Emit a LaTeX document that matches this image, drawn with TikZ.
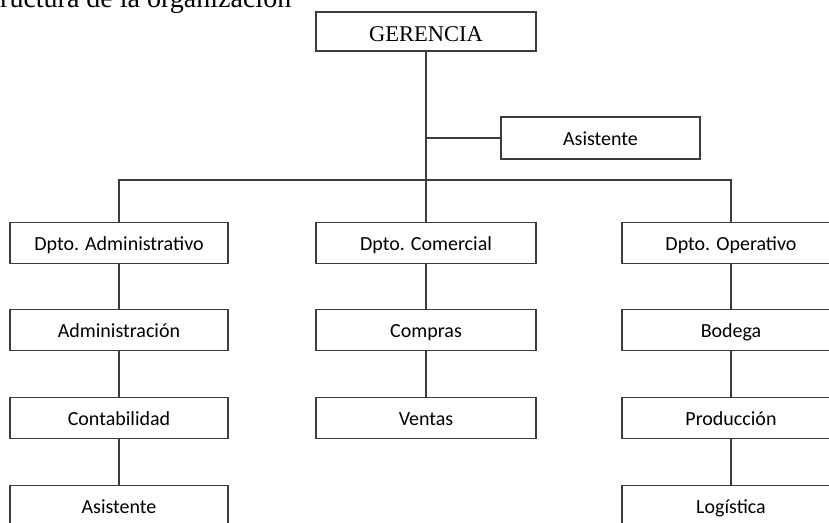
\documentclass[tikz,border=0pt]{standalone}
\usepackage{fontspec}
\setmainfont{Carlito}
\newfontfamily\serifa{Liberation Serif}
\usepackage{tikz}
\usetikzlibrary{calc}

\definecolor{linea}{RGB}{60,60,60}

\tikzset{
    caja/.style={draw=linea, line width=1.1pt, minimum width=218pt, minimum height=41pt, inner sep=0pt, text height=19pt, text depth=4pt, font=\fontsize{20}{22}\selectfont},
    conector/.style={draw=linea, line width=1.1pt}
}

\begin{document}
\begin{tikzpicture}[x=1pt, y=1pt]
        \useasboundingbox (0,0) rectangle (829,-522);
        % titulo (cortado arriba)
        \node[anchor=base west, inner sep=0pt, font=\serifa\fontsize{28}{30}\selectfont] (titulo) at (0,-7.5) {ructura de la organización};

        \node[caja, minimum width=220pt, minimum height=39pt, text height=22pt, text depth=2pt, font=\serifa\fontsize{22.5}{24}\selectfont] (gerencia) at (426,-31.5) {GERENCIA};
        \node[caja, minimum width=199pt, minimum height=42pt] (asistente) at (600.5,-138) {Asistente};
        \coordinate (bus) at (0,-180);

        % departamentos
        \node[caja] (dadm) at (119,-243) {Dpto. Administrativo};
        \node[caja, minimum width=220pt] (dcom) at (426,-243) {Dpto. Comercial};
        \node[caja] (dope) at (731,-243) {Dpto. Operativo};

        % columna izquierda
        \node[caja] (adm) at (119,-330) {Administración};
        \node[caja] (cont) at (119,-418) {Contabilidad};
        \node[caja] (asis) at (119,-506) {Asistente};

        % columna central
        \node[caja, minimum width=220pt] (compras) at (426,-330) {Compras};
        \node[caja, minimum width=220pt] (ventas) at (426,-418) {Ventas};

        % columna derecha
        \node[caja] (bodega) at (731,-330) {Bodega};
        \node[caja] (prod) at (731,-418) {Producción};
        \node[caja] (log) at (731,-506) {Logística};

        \draw[conector] (gerencia) -- (dcom);
        \draw[conector] (asistente.west) -- (asistente.west -| gerencia.south);
        \draw[conector] (dadm.north) -- (dadm.north |- bus) -- (dope.north |- bus) -- (dope.north);

        \draw[conector] (dadm) -- (adm);
        \draw[conector] (adm) -- (cont);
        \draw[conector] (cont) -- (asis);
        \draw[conector] (dcom) -- (compras);
        \draw[conector] (compras) -- (ventas);
        \draw[conector] (dope) -- (bodega);
        \draw[conector] (bodega) -- (prod);
        \draw[conector] (prod) -- (log);
    \end{tikzpicture}
\end{document}
